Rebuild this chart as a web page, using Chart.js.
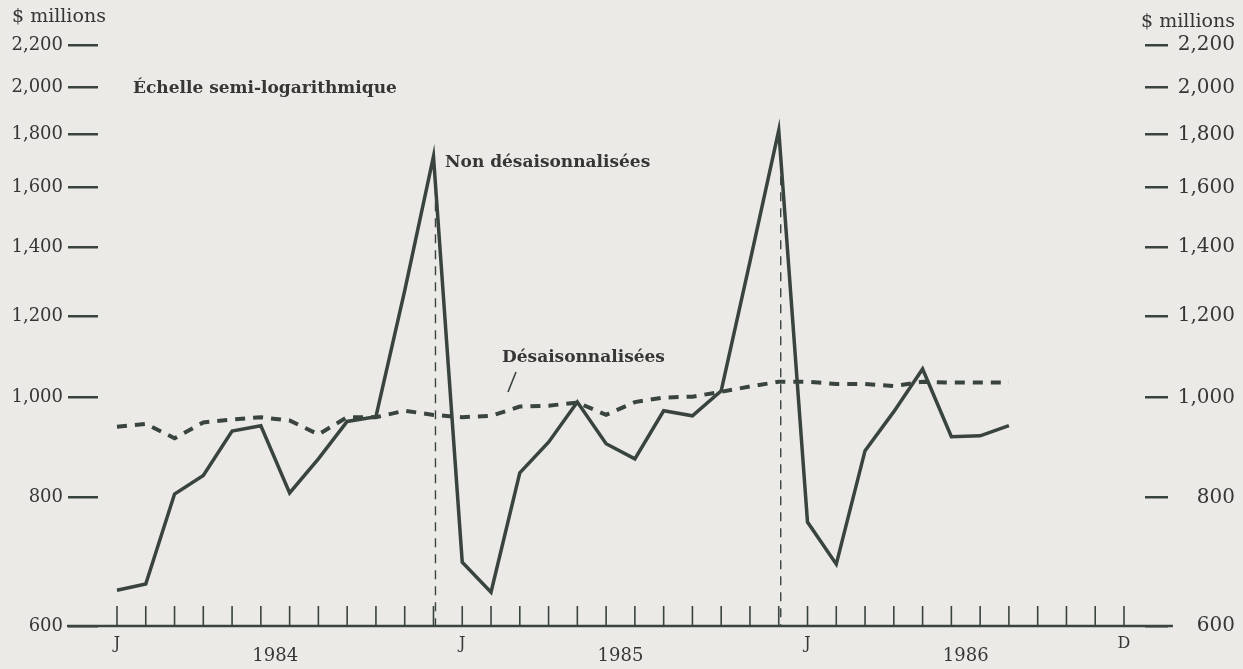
<!DOCTYPE html>
<html>
<head>
<meta charset="utf-8">
<title>Exportations - échelle semi-logarithmique</title>
<script src="https://cdn.jsdelivr.net/npm/chart.js@4.4.1/dist/chart.umd.min.js"></script>
<style>
  html, body { margin: 0; padding: 0; background: #ebeae6; }
  #wrap { width: 1243px; height: 669px; position: relative; }
</style>
</head>
<body>
<div id="wrap"><canvas id="chart"></canvas></div>
<script>
// months Jan 1984 .. Dec 1986
const monthLabels = [
  'J', 'F', 'M', 'A', 'M', 'J', 'J', 'A', 'S', 'O', 'N', 'D',
  'J', 'F', 'M', 'A', 'M', 'J', 'J', 'A', 'S', 'O', 'N', 'D',
  'J', 'F', 'M', 'A', 'M', 'J', 'J', 'A', 'S', 'O', 'N', 'D'
];
const yearLabels = ['1984', '1985', '1986'];

// $ millions, Jan 1984 .. Aug 1986
const notAdjusted = [
  650, 659, 806, 840, 928, 939, 808, 872, 948, 958, 1270, 1715,
  692, 647, 845, 905, 990, 902, 872, 971, 960, 1015, 1355, 1818,
  757, 689, 888, 969, 1066, 916, 918, 939
];
const adjusted = [
  937, 943, 913, 946, 952, 957, 950, 921, 957, 957, 971, 962,
  957, 960, 980, 982, 989, 962, 990, 1000, 1002, 1013, 1025, 1036,
  1036, 1031, 1031, 1026, 1036, 1034, 1034, 1034
];
const yTickValues = [600, 800, 1000, 1200, 1400, 1600, 1800, 2000, 2200];
const peakMonths = [11, 23];

const ink = '#39443e';
const textInk = '#363636';
const serif = '"DejaVu Serif", serif';

const toPoints = values => values.map((v, i) => ({ x: i, y: v }));

const paperMarks = {
  id: 'paperMarks',
  afterDraw(chart) {
    const { ctx, scales } = chart;
    const x = scales.x;
    const y = scales.y;
    const base = y.getPixelForValue(600);

    ctx.save();
    ctx.strokeStyle = ink;

    // long base line, running out past both axes
    ctx.lineWidth = 2.5;
    ctx.beginPath();
    ctx.moveTo(y.right - 31, base);
    ctx.lineTo(x.getPixelForValue(36.7), base);
    ctx.stroke();

    // month ticks standing on the base line
    ctx.lineWidth = 1.6;
    monthLabels.forEach((_, i) => {
      const px = x.getPixelForValue(i);
      ctx.beginPath();
      ctx.moveTo(px, base);
      ctx.lineTo(px, base - 20);
      ctx.stroke();
    });

    // thin dashed drops under the December peaks
    ctx.lineWidth = 1.4;
    ctx.setLineDash([9, 7]);
    peakMonths.forEach(i => {
      const px = x.getPixelForValue(i) + 2;
      ctx.beginPath();
      ctx.moveTo(px, y.getPixelForValue(notAdjusted[i]) + 30);
      ctx.lineTo(px, base);
      ctx.stroke();
    });
    ctx.setLineDash([]);

    // year names under the middle of each year
    ctx.fillStyle = textInk;
    ctx.font = '18px ' + serif;
    ctx.textAlign = 'center';
    ctx.textBaseline = 'middle';
    yearLabels.forEach((yr, k) => {
      ctx.fillText(yr, x.getPixelForValue(12 * k + 5.5), 656);
    });

    // headings and series notes
    ctx.font = '19px ' + serif;
    ctx.textAlign = 'left';
    ctx.fillText('$ millions', 12, 17);
    ctx.textAlign = 'right';
    ctx.fillText('$ millions', 1235, 22);

    ctx.textAlign = 'left';
    ctx.font = 'bold 17px ' + serif;
    ctx.fillText('Échelle semi-logarithmique', 133, 89);
    ctx.fillText('Non désaisonnalisées', 445, 163);
    ctx.fillText('Désaisonnalisées', 502, 358);

    // pointer from the note to the dashed line
    ctx.lineWidth = 1.6;
    ctx.beginPath();
    ctx.moveTo(516, 372);
    ctx.lineTo(508, 392);
    ctx.stroke();

    ctx.restore();
  }
};

const yTicksCommon = {
  color: textInk,
  font: { family: serif, size: 18 },
  callback: v => Number(v).toLocaleString('en-US')
};

new Chart(document.getElementById('chart'), {
  type: 'line',
  data: {
    datasets: [
      {
        label: 'Non désaisonnalisées',
        data: toPoints(notAdjusted),
        borderColor: ink,
        borderWidth: 3.5,
        pointRadius: 0,
        tension: 0,
        yAxisID: 'y'
      },
      {
        label: 'Désaisonnalisées',
        data: toPoints(adjusted),
        borderColor: ink,
        borderWidth: 4,
        borderDash: [10, 8],
        pointRadius: 0,
        tension: 0,
        yAxisID: 'y'
      }
    ]
  },
  options: {
    responsive: true,
    maintainAspectRatio: false,
    animation: false,
    layout: { padding: { top: 45, right: 8, left: 0, bottom: 0 } },
    plugins: {
      legend: { display: false },
      tooltip: { enabled: false }
    },
    scales: {
      x: {
        type: 'linear',
        min: -0.66,
        max: 35.73,
        afterBuildTicks: s => { s.ticks = monthLabels.map((_, i) => ({ value: i })); },
        afterFit: s => { s.height = 43; },
        ticks: {
          autoSkip: false,
          maxRotation: 0,
          padding: 8,
          color: textInk,
          font: { family: serif, size: 16 },
          callback: (v, i) => (i % 12 === 0 || i === monthLabels.length - 1 ? monthLabels[i] : '')
        },
        grid: { display: false, drawTicks: false },
        border: { display: false }
      },
      y: {
        type: 'logarithmic',
        position: 'left',
        min: 600,
        max: 2200,
        afterBuildTicks: s => { s.ticks = yTickValues.map(v => ({ value: v })); },
        afterFit: s => { s.width = 98; },
        ticks: { ...yTicksCommon, padding: 5 },
        grid: { drawOnChartArea: false, drawTicks: true, tickLength: 30, color: ink, lineWidth: 2.5 },
        border: { display: false }
      },
      y2: {
        type: 'logarithmic',
        position: 'right',
        min: 600,
        max: 2200,
        afterBuildTicks: s => { s.ticks = yTickValues.map(v => ({ value: v })); },
        afterFit: s => { s.width = 90; },
        ticks: { ...yTicksCommon, crossAlign: 'far', font: { family: serif, size: 20 } },
        grid: { drawOnChartArea: false, drawTicks: true, tickLength: 23, color: ink, lineWidth: 2.5 },
        border: { display: false }
      }
    }
  },
  plugins: [paperMarks]
});
</script>
</body>
</html>
